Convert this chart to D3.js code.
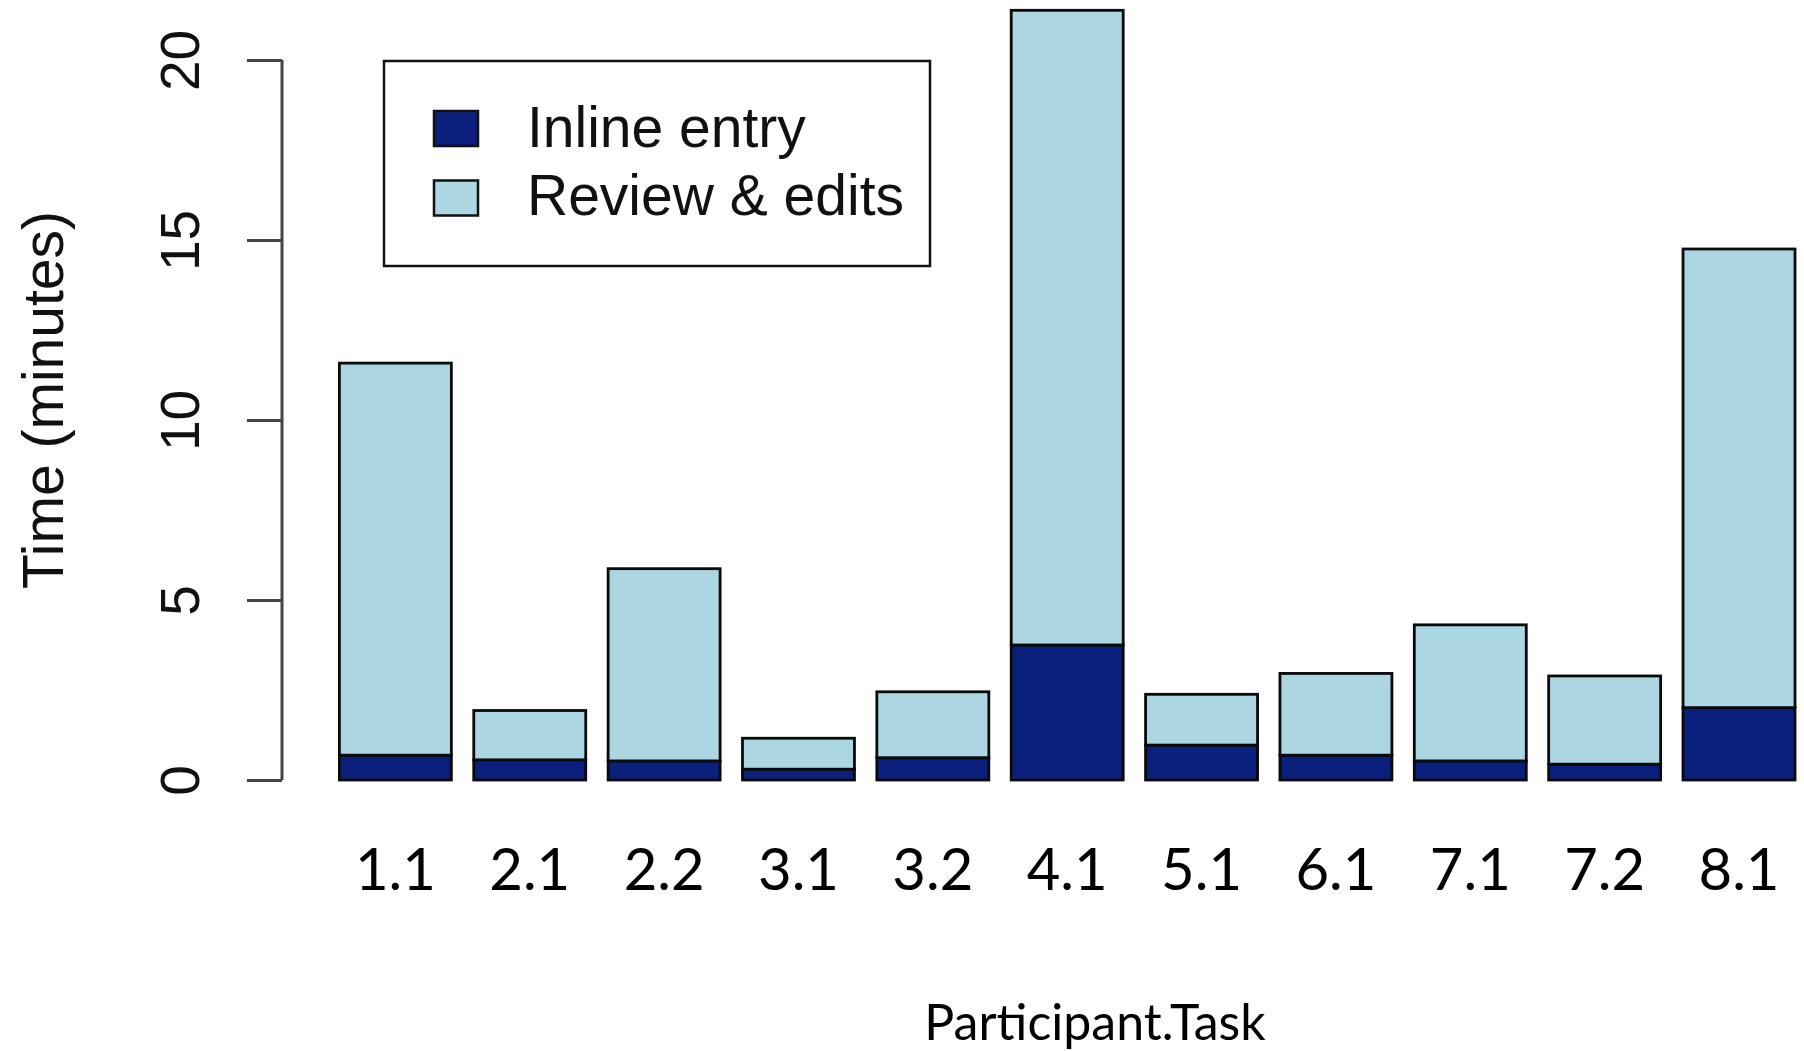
<!DOCTYPE html>
<html>
<head>
<meta charset="utf-8">
<script src="https://cdn.jsdelivr.net/npm/d3@7"></script>
<style>
  html, body { margin: 0; padding: 0; background: #fff; }
  svg { display: block; }
</style>
</head>
<body>
<svg id="chart" width="1804" height="1051"></svg>
<script>
// ---- data ----
const categories = ["1.1", "2.1", "2.2", "3.1", "3.2", "4.1", "5.1", "6.1", "7.1", "7.2", "8.1"];
const inlineEntry = [0.69, 0.56, 0.53, 0.30, 0.62, 3.75, 0.97, 0.69, 0.53, 0.44, 2.01];
const reviewEdits = [10.89, 1.37, 5.34, 0.86, 1.83, 17.63, 1.41, 2.27, 3.78, 2.45, 12.74];
const seriesNames = ["Inline entry", "Review & edits"];
const yTicks = [0, 5, 10, 15, 20];
const xTitle = "Participant.Task";
const yTitle = "Time (minutes)";

// ---- drawing ----
const colors = ["#0b1f7c", "#add6e3"];
const svg = d3.select("#chart");

const y = d3.scaleLinear().domain([0, 20]).range([780, 60]);
const x = d3.scaleBand().domain(categories).range([339.4, 1795]).paddingInner(1 / 6).paddingOuter(0);

const rows = categories.map((c, i) => ({ cat: c, inline: inlineEntry[i], review: reviewEdits[i] }));
const stack = d3.stack().keys(["inline", "review"])(rows);

svg.append("g").selectAll("g")
  .data(stack)
  .join("g")
  .attr("fill", (d, i) => colors[i])
  .selectAll("rect")
  .data(d => d)
  .join("rect")
  .attr("x", d => x(d.data.cat))
  .attr("width", x.bandwidth())
  .attr("y", d => y(d[1]))
  .attr("height", d => y(d[0]) - y(d[1]))
  .attr("stroke", "#0a0a0a")
  .attr("stroke-width", 2.8);

// y axis
const yAxis = d3.axisLeft(y).tickValues(yTicks).tickSize(35).tickFormat(d3.format("d"));
const ga = svg.append("g").attr("transform", "translate(282,0)").call(yAxis);
ga.select(".domain").attr("stroke", "#444").attr("stroke-width", 3)
  .attr("d", `M0,${y(20)}V${y(0)}`);
ga.selectAll(".tick line").attr("stroke", "#444").attr("stroke-width", 3);
ga.selectAll(".tick text")
  .attr("x", 0).attr("dy", null).attr("y", 0)
  .attr("transform", "translate(-83,0) rotate(-90)")
  .attr("text-anchor", "middle")
  .attr("fill", "#111")
  .style("font-family", "'Liberation Sans', Arial, sans-serif")
  .style("font-size", "55px");

// y title
svg.append("text")
  .attr("transform", "translate(63,400) rotate(-90)")
  .attr("text-anchor", "middle")
  .attr("fill", "#111")
  .style("font-family", "'Liberation Sans', Arial, sans-serif")
  .style("font-size", "57px")
  .text(yTitle);

// x tick labels
const xAxis = d3.axisBottom(x).tickSize(0);
const gx = svg.append("g").attr("transform", "translate(0,890)").call(xAxis);
gx.select(".domain").remove();
gx.selectAll(".tick text")
  .attr("y", 0).attr("dy", null)
  .attr("fill", "#000")
  .style("font-family", "Lato, 'Open Sans', sans-serif")
  .style("font-size", "58px");

// x title
svg.append("text")
  .attr("x", 1095).attr("y", 1040)
  .attr("text-anchor", "middle")
  .attr("fill", "#000")
  .style("font-family", "Lato, 'Open Sans', sans-serif")
  .style("font-size", "50px")
  .text(xTitle);

// legend
const lg = svg.append("g");
lg.append("rect")
  .attr("x", 384).attr("y", 61).attr("width", 546).attr("height", 205)
  .attr("fill", "#fff").attr("stroke", "#111").attr("stroke-width", 2.5);
const items = lg.selectAll("g.item").data(seriesNames).join("g").attr("class", "item");
items.append("rect")
  .attr("x", 434).attr("y", (d, i) => 111 + i * 69.5)
  .attr("width", 44).attr("height", 35)
  .attr("fill", (d, i) => colors[i])
  .attr("stroke", "#111").attr("stroke-width", 2.5);
items.append("text")
  .attr("x", 527).attr("y", (d, i) => 147 + i * 68)
  .attr("fill", "#111")
  .style("font-family", "'Liberation Sans', Arial, sans-serif")
  .style("font-size", "57px")
  .text(d => d);
</script>
</body>
</html>
